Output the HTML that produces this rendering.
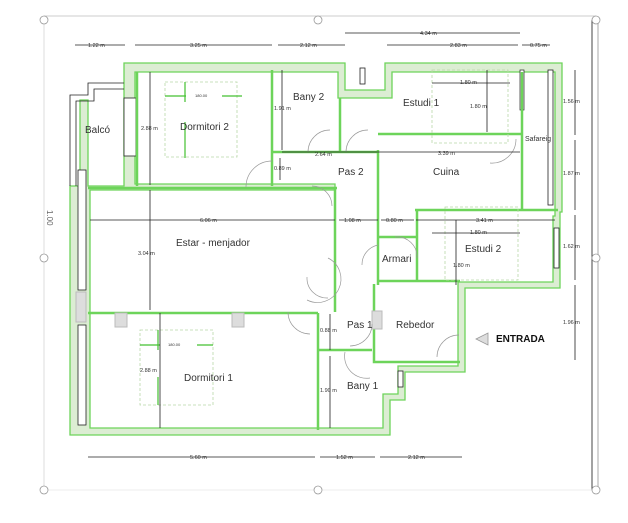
<!DOCTYPE html>
<html><head><meta charset="utf-8"><style>
html,body{margin:0;padding:0;background:#fff;}
svg{display:block;font-family:"Liberation Sans",sans-serif;}
.w{fill:#dcedd3;stroke:#6dd45a;stroke-width:1.3;}
.g{stroke:#6dd45a;stroke-width:2.5;fill:none;}
.k{stroke:#222;stroke-width:0.8;fill:none;}
.d{font-size:5.5px;fill:#333;}
.l{font-size:10px;fill:#333;}
.door{stroke:#999;stroke-width:0.7;fill:none;}
.bed{stroke:#b9d8a8;stroke-width:0.8;fill:none;stroke-dasharray:3 2;}
</style></head><body>
<svg width="628" height="523" viewBox="0 0 628 523">
<rect width="628" height="523" fill="#fff"/>
<line x1="44" y1="16" x2="596" y2="16" stroke="#ccc" stroke-width="1"/>
<line x1="44" y1="20" x2="44" y2="490" stroke="#ddd"/>
<line x1="592" y1="20" x2="592" y2="490" stroke="#444"/>
<line x1="598" y1="20" x2="598" y2="490" stroke="#aaa"/>
<line x1="44" y1="490" x2="596" y2="490" stroke="#eee"/>
<g fill="#fff" stroke="#999" stroke-width="0.8">
<circle cx="44" cy="20" r="4"/><circle cx="318" cy="20" r="4"/><circle cx="596" cy="20" r="4"/>
<circle cx="44" cy="258" r="4"/><circle cx="596" cy="258" r="4"/>
<circle cx="44" cy="490" r="4"/><circle cx="318" cy="490" r="4"/><circle cx="596" cy="490" r="4"/>
</g>
<text x="47" y="210" font-size="8" fill="#666" transform="rotate(90 47 210)">1.00</text>

<path class="w" d="M124,63 H345 V90 H385 V63 H562 V212 H560 V288 H465 V372 H405 V400 H390 V435 H70 V186 H80 V100 H88 V186 H124 Z M135,72 V184 H335 V190 H90 V428 H383 V394 H398 V366 H458 V282 H553 V216 H555 V72 H392 V98 H338 V72 Z" fill-rule="evenodd"/>
<path class="k" d="M70,186 V95 H88 V83 H124 M76,186 V101 H94 V89 H124" stroke-width="1"/>
<rect x="124" y="98" width="12" height="58" fill="#fff" stroke="#222" stroke-width="0.8"/>
<rect x="78" y="170" width="8" height="120" fill="#fff" stroke="#222" stroke-width="0.8"/>
<rect x="78" y="325" width="8" height="100" fill="#fff" stroke="#222" stroke-width="0.8"/>
<rect x="520" y="70" width="4" height="40" fill="#fff" stroke="#222" stroke-width="0.7"/>
<rect x="548" y="70" width="5" height="135" fill="#fff" stroke="#222" stroke-width="0.8"/>
<rect x="554" y="228" width="5" height="40" fill="#fff" stroke="#222" stroke-width="0.8"/>
<rect x="398" y="371" width="5" height="16" fill="#fff" stroke="#222" stroke-width="0.8"/>
<rect x="360" y="68" width="5" height="16" fill="#fff" stroke="#222" stroke-width="0.8"/>

<g class="g">
<path d="M88,188 H337"/>
<path d="M137,72 V186"/>
<path d="M272,70 V186"/>
<path d="M272,152 H378"/>
<path d="M340,98 V152"/>
<path d="M378,150 V285"/>
<path d="M378,134 H522"/>
<path d="M522,72 V210"/>
<path d="M415,210 H558"/>
<path d="M417,210 V282"/>
<path d="M335,188 V312"/>
<path d="M88,313 H318"/>
<path d="M318,313 V430"/>
<path d="M318,350 H372"/>
<path d="M374,284 V362 H460"/>
<path d="M378,237 H417"/>
<path d="M378,281 H460"/>
</g>
<rect x="115" y="313" width="12" height="14" fill="#ddd" stroke="#bbb"/>
<rect x="232" y="313" width="12" height="14" fill="#ddd" stroke="#bbb"/>
<rect x="372" y="311" width="10" height="18" fill="#ddd" stroke="#bbb"/>
<rect x="76" y="292" width="10" height="30" fill="#ddd" stroke="#bbb"/>

<g class="door">
<path d="M246,187 A26,26 0 0 1 272,161"/>
<path d="M308,152 A22,22 0 0 1 330,130"/><path d="M346,152 A22,22 0 0 1 368,130"/>
<path d="M312,186 A20,20 0 0 1 332,206"/>
<path d="M307,277 A20,20 0 0 0 328,298"/><path d="M307,300 A20,20 0 0 0 328,258"/>
<path d="M288,312 A22,22 0 0 0 310,334"/>
<path d="M350,346 A22,22 0 0 0 372,324"/>
<path d="M345,352 A22,22 0 0 0 370,378"/>
<path d="M437,357 A22,22 0 0 1 459,335"/>
<path d="M490,163 A24,24 0 0 0 516,139"/>
<path d="M395,237 A20,20 0 0 1 417,258"/>
<path d="M362,265 A20,20 0 0 1 378,245"/>
</g>

<rect x="165" y="82" width="72" height="75" class="bed"/>
<rect x="140" y="330" width="73" height="75" class="bed"/>
<rect x="432" y="70" width="76" height="73" class="bed"/>
<rect x="445" y="207" width="73" height="73" class="bed"/>
<g stroke="#44c030" stroke-width="1.2" fill="none">
<path d="M165,96 H186 M222,96 H242 M185,82 V102 M185,122 V158"/>
<path d="M140,345 H160 M197,345 H213 M158,330 V350 M158,377 V405"/>
</g>

<g class="k">
<path d="M75,45 H125 M135,45 H272 M278,45 H345 M345,33 H520 M387,45 H518 M522,45 H550"/>
<path d="M150,72 V185 M282,70 V150 M280,158 V180 M282,152 H378 M378,152 H520 M90,220 H335 M150,190 V310 M339,220 H378 M381,220 H414 M416,220 H555 M456,220 V285 M432,233 H520 M432,83 H510 M487,70 V132"/>
<path d="M160,313 V428 M330,314 V350 M330,356 V428"/>
<path d="M88,457 H315 M320,457 H375 M380,457 H462"/>
<path d="M575,70 V135 M575,140 V210 M575,215 V280 M575,285 V360"/>
</g>
<g class="d">
<text x="88" y="47">1.22 m</text><text x="190" y="47">3.25 m</text><text x="300" y="47">2.12 m</text>
<text x="420" y="35">4.34 m</text><text x="450" y="47">2.83 m</text><text x="530" y="47">0.75 m</text>
<text x="141" y="130">2.88 m</text><text x="274" y="110">1.91 m</text><text x="274" y="170">0.89 m</text>
<text x="315" y="156">2.64 m</text><text x="438" y="155">3.39 m</text><text x="200" y="222">6.06 m</text>
<text x="344" y="222">1.08 m</text><text x="386" y="222">0.80 m</text><text x="476" y="222">3.41 m</text>
<text x="470" y="234">1.80 m</text><text x="453" y="267">1.80 m</text><text x="460" y="84">1.80 m</text><text x="470" y="108">1.80 m</text>
<text x="138" y="255">3.04 m</text><text x="140" y="372">2.88 m</text><text x="320" y="332">0.88 m</text><text x="320" y="392">1.90 m</text>
<text x="190" y="459">5.60 m</text><text x="336" y="459">1.52 m</text><text x="408" y="459">2.12 m</text>
<text x="563" y="103">1.56 m</text><text x="563" y="175">1.87 m</text><text x="563" y="248">1.62 m</text><text x="563" y="324">1.96 m</text>
<text x="195" y="97" font-size="4">180.00</text><text x="168" y="346" font-size="4">180.00</text>
</g>
<g class="l">
<text x="85" y="133">Balcó</text><text x="180" y="130">Dormitori 2</text><text x="293" y="100">Bany 2</text>
<text x="338" y="175">Pas 2</text><text x="433" y="175">Cuina</text><text x="403" y="106">Estudi 1</text>
<text x="525" y="141" font-size="7">Safareig</text><text x="176" y="246">Estar - menjador</text>
<text x="382" y="262">Armari</text><text x="465" y="252">Estudi 2</text><text x="347" y="328">Pas 1</text>
<text x="396" y="328">Rebedor</text><text x="184" y="381">Dormitori 1</text><text x="347" y="389">Bany 1</text>
</g>
<polygon points="476,339 488,333 488,345" fill="#ddd" stroke="#999" stroke-width="0.8"/>
<text x="496" y="342" font-size="10" font-weight="bold" fill="#111">ENTRADA</text>
</svg>
</body></html>
